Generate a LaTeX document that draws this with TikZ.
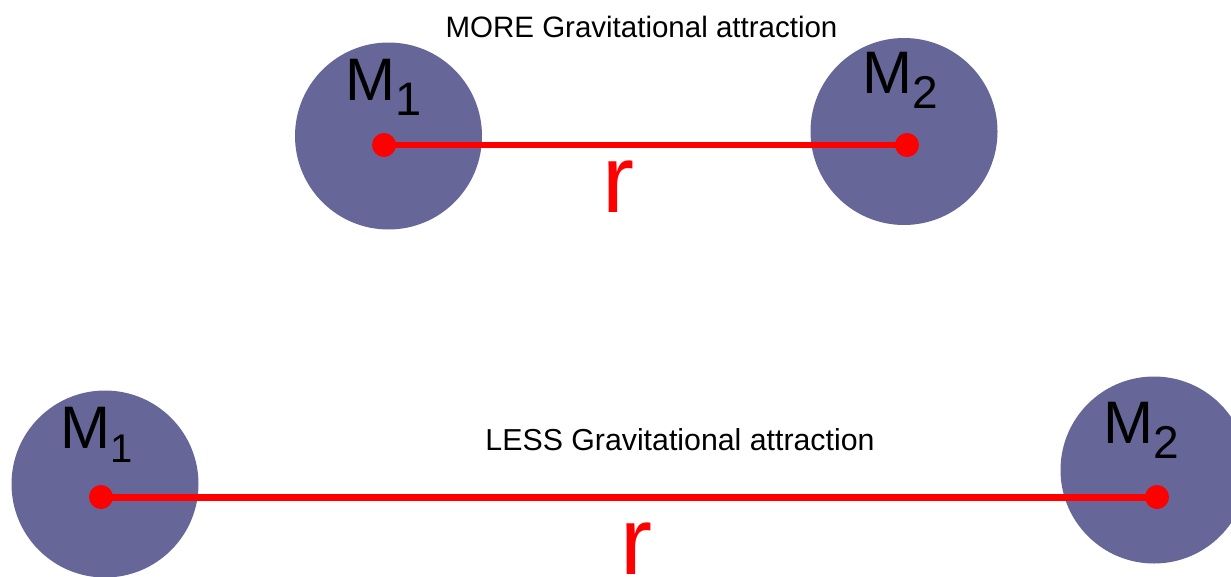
\documentclass[tikz,border=0pt]{standalone}
\usepackage{fontspec}
\setmainfont{Liberation Sans}
\definecolor{planetc}{RGB}{102,102,153}
\definecolor{rred}{RGB}{255,0,0}
\begin{document}
\begin{tikzpicture}[x=1pt,y=-1pt,
  planet/.style={circle,fill=planetc,draw=none,minimum size=187pt,inner sep=0pt},
  dotc/.style={circle,fill=rred,draw=none,minimum size=24pt,inner sep=0pt},
  rline/.style={draw=rred,line width=#1},
  mlabel/.style={anchor=base west,inner sep=0pt,font=\fontsize{60}{60}\selectfont},
  rlabel/.style={anchor=base,inner sep=0pt,text=rred,font=\fontsize{96}{96}\selectfont},
  caption/.style={anchor=base,inner sep=0pt,font=\fontsize{29.5}{30}\selectfont}
]
\useasboundingbox (0,0) rectangle (1231,576);
\clip (0,0) rectangle (1231,576);
\fill[white] (0,0) rectangle (1231,576);
% top pair
\node[planet] (p1t) at (388.5,136) {};
\node[planet] (p2t) at (904,131.5) {};
\node[dotc] (d1t) at (384,145) {};
\node[dotc] (d2t) at (907,145) {};
\draw[rline=6pt] (d1t.center) -- (d2t.center);
\node[mlabel] (m1t) at (345.6,100) {M\raisebox{-15pt}{\fontsize{47}{47}\selectfont 1}};
\node[mlabel] (m2t) at (862.6,93) {M\raisebox{-15pt}{\fontsize{46}{46}\selectfont 2}};
\node[rlabel] (rt) at (618.5,212) {r};
\node[caption] (capt) at (641.5,37) {MORE Gravitational attraction};
% bottom pair
\node[planet] (p1b) at (105,484) {};
\node[planet] (p2b) at (1154,470) {};
\node[dotc] (d1b) at (101,497) {};
\node[dotc] (d2b) at (1157,497) {};
\draw[rline=7pt] (d1b.center) -- (d2b.center);
\node[mlabel] (m1b) at (60.6,448) {M\raisebox{-14pt}{\fontsize{40}{40}\selectfont 1}};
\node[mlabel] (m2b) at (1103.6,443) {M\raisebox{-15pt}{\fontsize{46}{46}\selectfont 2}};
\node[rlabel] (rb) at (636,574) {r};
\node[caption,font=\fontsize{30.3}{31}\selectfont] (capb) at (680,450) {LESS Gravitational attraction};
\end{tikzpicture}
\end{document}
